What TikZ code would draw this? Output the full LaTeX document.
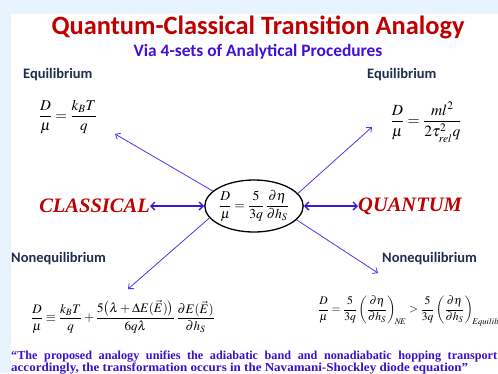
\documentclass[tikz,border=0pt]{standalone}
\usepackage{amsmath}
\usepackage{graphicx}
\usepackage{mathptmx}
\usepackage[no-math]{fontspec}
\usetikzlibrary{arrows.meta,shapes.geometric}
\newfontfamily\calb{Carlito}
\newfontfamily\tnr{Liberation Serif}
\definecolor{bgblue}{HTML}{E8F4FD}
\definecolor{titlered}{HTML}{C00000}
\definecolor{subblue}{HTML}{4010D8}
\definecolor{navy}{HTML}{1F2D4F}
\definecolor{arrblue}{HTML}{5A30E8}
\definecolor{dblblue}{HTML}{3A18D8}
\definecolor{footblue}{HTML}{3A10C8}
\definecolor{lblred}{HTML}{C00000}
\tikzset{
  lbl/.style={font=\calb\bfseries\fontsize{14.5}{16}\selectfont, text=navy, inner sep=0pt},
  eqn/.style={font=\fontsize{15}{18}\selectfont, inner sep=0pt},
  side/.style={font=\tnr\bfseries\itshape\fontsize{20.5}{22}\selectfont, text=lblred, inner sep=0pt},
  thinarr/.style={draw=arrblue, line width=0.8pt, -{Straight Barb[length=4pt,width=7pt]}},
  dblarr/.style={draw=dblblue, line width=1.4pt, {Straight Barb[length=4pt,width=8pt]}-{Straight Barb[length=4pt,width=8pt]}},
  foot/.style={font=\tnr\bfseries\fontsize{12.2}{13}\selectfont, text=footblue, inner sep=0pt}
}
\begin{document}
\begin{tikzpicture}[x=1pt,y=-1pt]
\useasboundingbox (0,0) rectangle (498,373);
\fill[bgblue] (0,0) rectangle (498,373);
\fill[white] (11,14) rectangle (498,373);
\clip (0,0) rectangle (498,373);
\node[anchor=base, font=\calb\bfseries\fontsize{26.4}{30}\selectfont, text=titlered, inner sep=0pt] (title) at (258,34) {Quantum-Classical Transition Analogy};
\node[anchor=base, font=\calb\bfseries\fontsize{17.4}{20}\selectfont, text=subblue, inner sep=0pt] (sub) at (258,56) {Via 4-sets of Analytical Procedures};
\node[lbl, anchor=base west] (eqlL) at (23,78) {Equilibrium};
\node[lbl, anchor=base west] (eqlR) at (367,78) {Equilibrium};
\node[lbl, anchor=base west] (neqL) at (11,262) {Nonequilibrium};
\node[lbl, anchor=base west] (neqR) at (382,262) {Nonequilibrium};
\node[eqn] (eq1) at (68,117) {$\dfrac{D}{\mu}=\dfrac{k_{B}T}{q}$};
\node[eqn, font=\fontsize{15.5}{18}\selectfont] (eq2) at (426,122) {$\dfrac{D}{\mu}=\dfrac{ml^{2}}{2\tau_{rel}^{2}q}$};
\node[draw, line width=1.3pt, ellipse, minimum width=98pt, minimum height=52pt, inner sep=0pt, font=\fontsize{13.6}{16}\selectfont] (ell) at (254,206) {$\dfrac{D}{\mu}=\dfrac{5}{3q}\,\dfrac{\partial\eta}{\partial h_{S}}$};
\node[side, anchor=east] (cls) at (150,206) {CLASSICAL};
\node[side, anchor=west] (qnt) at (358,206) {QUANTUM};
\node[eqn, font=\fontsize{13}{15}\selectfont] (eq3) at (123,317) {$\dfrac{D}{\mu}\equiv\dfrac{k_{B}T}{q}+\dfrac{5\bigl(\lambda+\Delta E(\vec{E})\bigr)}{6q\lambda}\,\dfrac{\partial E(\vec{E})}{\partial h_{S}}$};
\node[eqn, anchor=west, font=\fontsize{11.6}{14}\selectfont] (eq4) at (318,311) {$\dfrac{D}{\mu}=\dfrac{5}{3q}\left(\dfrac{\partial\eta}{\partial h_{S}}\right)_{\!N\!E}>\dfrac{5}{3q}\left(\dfrac{\partial\eta}{\partial h_{S}}\right)_{\!Equilibrium}$};
\coordinate (tUL) at (115,134);
\coordinate (tUR) at (372,127);
\coordinate (tLL) at (128,289);
\coordinate (tLR) at (378,273);
\draw[thinarr] (ell.160) -- (tUL);
\draw[thinarr] (ell.16) -- (tUR);
\draw[thinarr] (ell.195) -- (tLL);
\draw[thinarr] (ell.342) -- (tLR);
\draw[dblarr] (cls.east) -- (ell.west);
\draw[dblarr] (ell.east) -- (qnt.west);
\node[foot, anchor=base west] (f1) at (11,359) {\makebox[486pt][s]{“The proposed analogy unifies the adiabatic band and nonadiabatic hopping transport}};
\node[foot, anchor=base west] (f2) at (11,371) {\resizebox{457pt}{\height}{accordingly, the transformation occurs in the Navamani-Shockley diode equation”}};
\end{tikzpicture}
\end{document}
